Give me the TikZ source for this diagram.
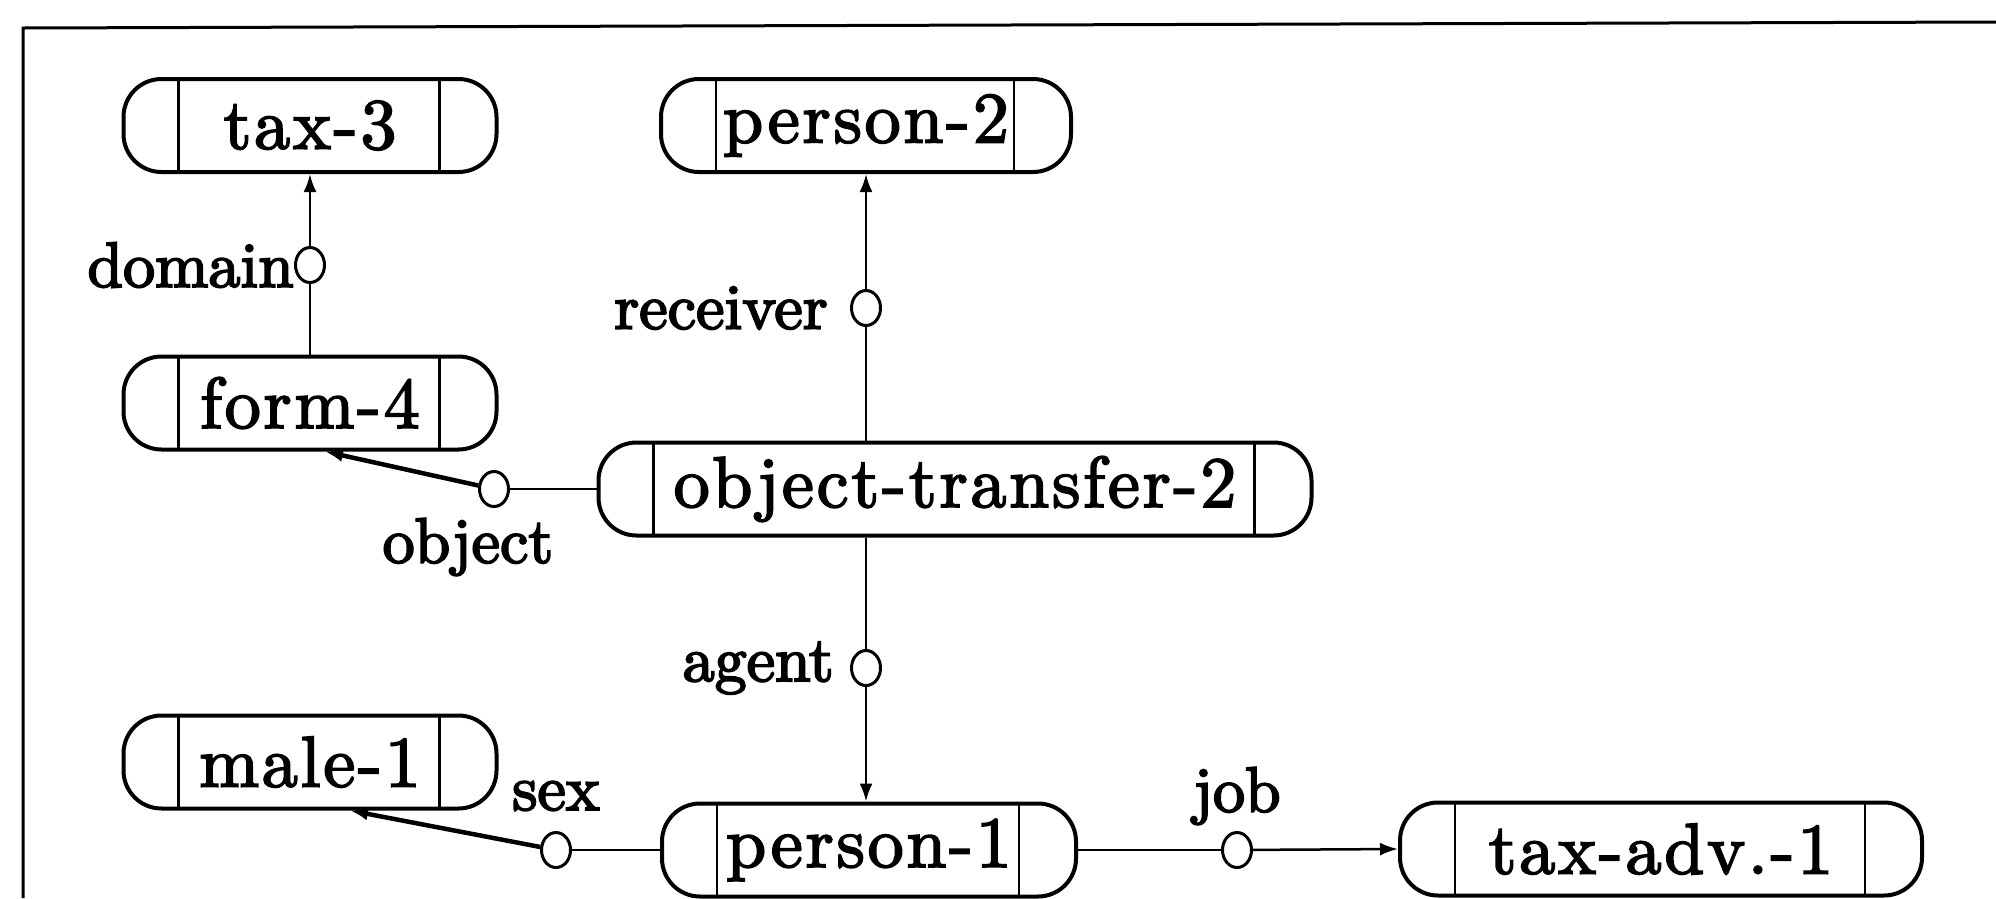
\documentclass[tikz,border=0pt]{standalone}
\usepackage{fontspec}
\newfontfamily\nodefont{lmroman10-regular}[Extension=.otf,LetterSpace=3.8,FakeBold=2.5]
\newfontfamily\lblfont{lmroman10-regular}[Extension=.otf,FakeBold=3]
\usetikzlibrary{arrows.meta,calc,shapes.geometric}
\tikzset{
  concept/.style={draw, line width=4pt, rounded corners=38pt,
    minimum height=93pt, minimum width=#1, inner sep=0pt,
    font=\nodefont\fontsize{72}{80}\selectfont,
    path picture={
      \draw[line width=2.2pt,sharp corners]
        ([xshift=55pt]path picture bounding box.north west) --
        ([xshift=55pt]path picture bounding box.south west);
      \draw[line width=2.2pt,sharp corners]
        ([xshift=-57pt]path picture bounding box.north east) --
        ([xshift=-57pt]path picture bounding box.south east);
    }},
  port/.style={draw, ellipse, line width=3pt, minimum width=29pt,
    minimum height=35pt, inner sep=0pt, fill=white},
  conn/.style={line width=2.5pt},
  diag/.style={line width=4.5pt},
  tip/.style={-{Latex[length=18pt,width=13pt]}},
  lbl/.style={font=\lblfont\fontsize{64}{70}\selectfont, inner sep=0pt}
}
\begin{document}
\begin{tikzpicture}[x=1pt,y=-1pt]
\useasboundingbox (0,0) rectangle (1996,898);
% frame
\coordinate (fbl) at (23,898);
\coordinate (ftl) at (23,28);
\coordinate (ftr) at (1996,22);
\draw[line width=3pt] (fbl) -- (ftl) -- (ftr);

% concept nodes
\node[concept=373pt] (tax3) at (310,125.5) {tax-3};
\node[concept=410pt] (p2) at (866,125.5) {person-2};
\node[concept=373pt] (form4) at (310,403) {form-4};
\node[concept=713pt] (ot) at (955,489) {object-transfer-2};
\node[concept=373pt] (male1) at (310,762) {male-1};
\node[concept=414pt] (p1) at (869,850) {person-1};
\node[concept=522pt] (taxadv) at (1661,849) {tax-adv.-1};

% ports
\node[port] (cdom) at (310,265) {};
\node[port] (crec) at (866,308) {};
\node[port] (cobj) at (494,489) {};
\node[port] (cage) at (866,668) {};
\node[port] (csex) at (556,850) {};
\node[port] (cjob) at (1237,850) {};

% connector free ends
\coordinate (formarr) at ($(form4.south)+(15,0)$);
\coordinate (malearr) at ($(male1.south)+(40,0)$);

% connectors
\draw[conn,tip] (cdom) -- (tax3);
\draw[conn] (cdom.south) -- (form4.north);
\draw[conn] (ot.north -| crec) -- (crec);
\draw[conn,tip] (crec) -- (p2.south -| crec);
\draw[conn] (ot.west) -- (cobj);
\draw[diag,tip] (cobj) -- (formarr);
\draw[conn] (ot.south -| cage) -- (cage);
\draw[conn,tip] (cage) -- (p1.north -| cage);
\draw[conn] (p1.west) -- (csex);
\draw[diag,tip] (csex) -- (malearr);
\draw[conn] (p1.east) -- (cjob);
\draw[conn,tip] (cjob) -- (taxadv.west);

% labels
\node[lbl,anchor=east] (ldom) at (cdom.west) {domain};
\node[lbl,anchor=east] (lrec) at ($(crec.west)+(-22,0)$) {receiver};
\node[lbl] (lobj) at (468,547) {object};
\node[lbl,anchor=east] (lage) at ($(cage.west)+(-16,0)$) {agent};
\node[lbl] (lsex) at (556,796) {sex};
\node[lbl] (ljob) at (1237,796) {job};
\end{tikzpicture}
\end{document}
